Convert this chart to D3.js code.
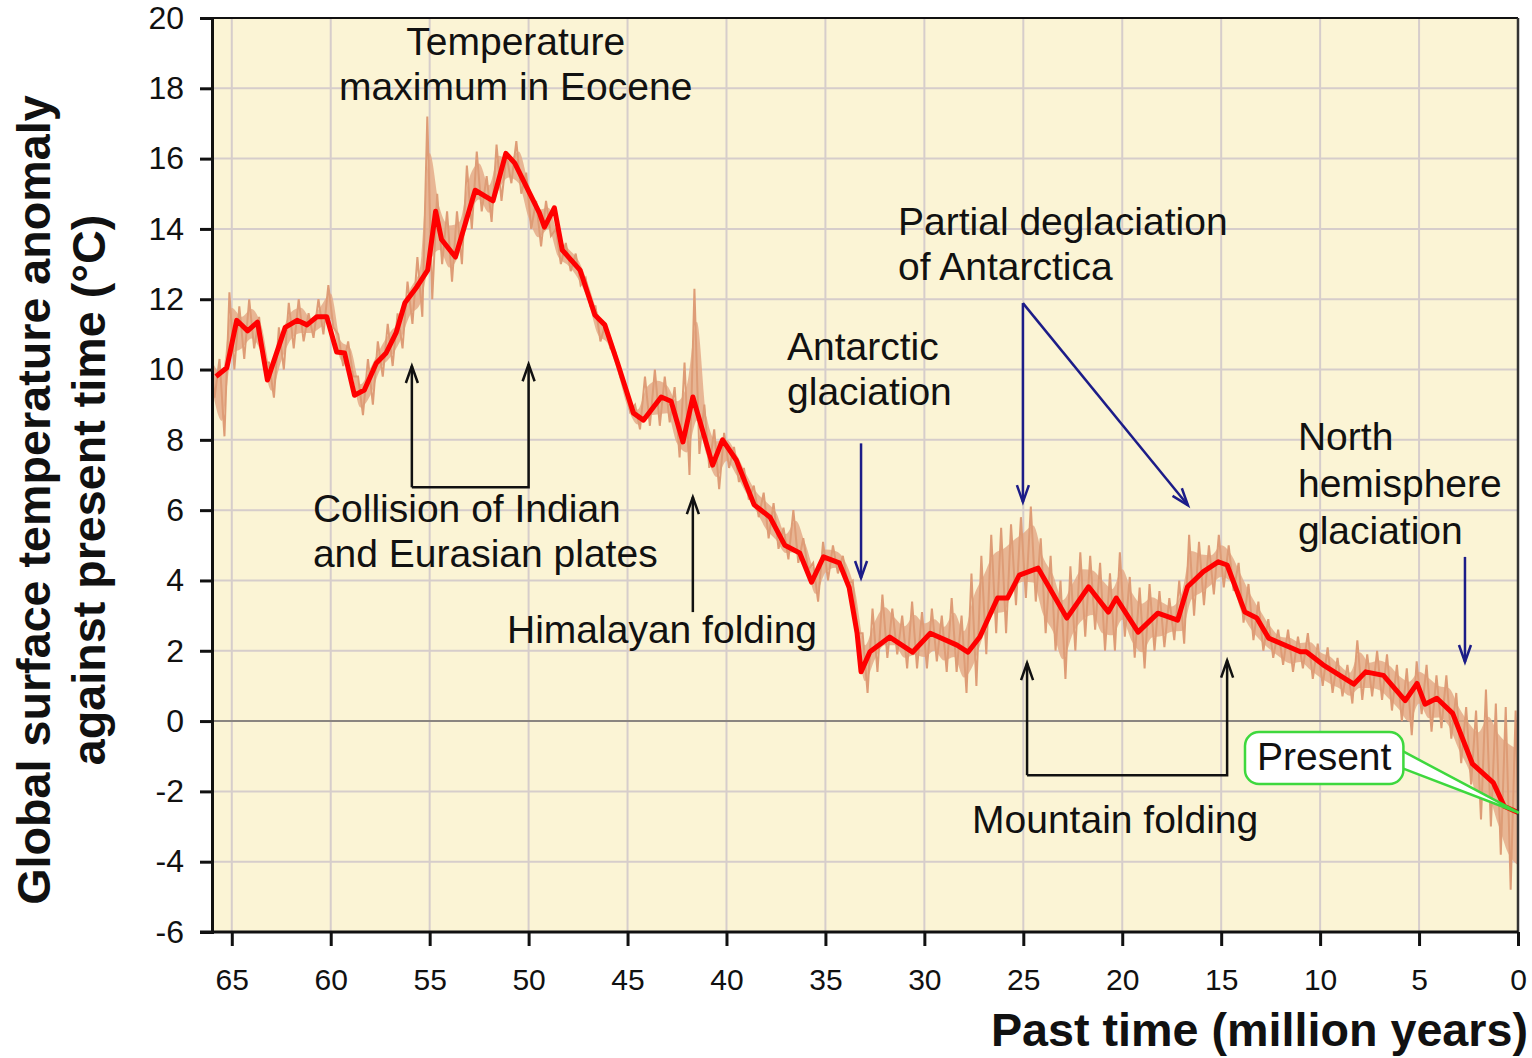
<!DOCTYPE html>
<html><head><meta charset="utf-8">
<script src="https://cdn.jsdelivr.net/npm/d3@7"></script>
<style>
html,body{margin:0;padding:0;background:#fff;}
svg{display:block;font-family:"Liberation Sans",Arial,sans-serif;}
</style></head>
<body>
<svg id="chart" width="1532" height="1058"></svg>
<script>
// ---------- DATA ----------
const xTicks = [65,60,55,50,45,40,35,30,25,20,15,10,5,0];
const xTickLabels = ["65","60","55","50","45","40","35","30","25","20","15","10","5","0"];
const yTicks = [-6,-4,-2,0,2,4,6,8,10,12,14,16,18,20];
const yTickLabels = ["-6","-4","-2","0","2","4","6","8","10","12","14","16","18","20"];

// smoothed curve: age (Myr) and temperature anomaly (°C)
const smoothAges = [65.8,65.25,64.75,64.2,63.7,63.2,62.3,61.7,61.2,60.7,60.2,59.7,59.3,58.8,58.3,57.7,57.2,56.7,56.25,55.65,55.1,54.7,54.4,53.7,52.7,51.8,51.15,50.7,49.45,49.2,48.7,48.3,47.4,46.65,46.15,45.5,44.7,44.2,43.3,42.8,42.2,41.7,40.7,40.2,39.5,38.6,37.8,37.05,36.3,35.7,35.1,34.3,33.8,33.4,33.2,32.75,31.75,30.6,29.7,28.35,27.8,27.2,26.3,25.8,25.2,24.25,22.8,21.7,20.7,20.3,19.2,18.2,17.2,16.7,15.9,15.15,14.7,13.8,13.2,12.6,11.0,10.7,9.85,8.3,7.7,6.8,5.7,5.1,4.7,4.1,3.3,2.3,1.25,0.7,0];
const smoothTemps = [9.8,10.05,11.4,11.1,11.35,9.7,11.2,11.4,11.27,11.5,11.5,10.5,10.47,9.27,9.42,10.18,10.47,11.04,11.9,12.35,12.83,14.5,13.7,13.2,15.1,14.8,16.15,15.87,14.45,14.05,14.6,13.4,12.83,11.55,11.27,10.18,8.76,8.56,9.22,9.1,7.94,9.22,7.28,8.0,7.42,6.15,5.8,5.0,4.78,3.95,4.67,4.5,3.8,2.5,1.4,1.97,2.39,1.96,2.5,2.16,1.96,2.39,3.5,3.5,4.15,4.35,2.93,3.82,3.1,3.5,2.53,3.07,2.87,3.82,4.25,4.53,4.44,3.1,2.93,2.36,1.97,1.97,1.6,1.05,1.4,1.3,0.58,1.07,0.48,0.65,0.22,-1.22,-1.75,-2.42,-2.6];

// raw (noisy) record, read as high / low extremes per 0.5 Myr bin
const rawAges = [66,65.5,65,64.5,64,63.5,63,62.5,62,61.5,61,60.5,60,59.5,59,58.5,58,57.5,57,56.5,56,55.5,55,54.5,54,53.5,53,52.5,52,51.5,51,50.5,50,49.5,49,48.5,48,47.5,47,46.5,46,45.5,45,44.5,44,43.5,43,42.5,42,41.5,41,40.5,40,39.5,39,38.5,38,37.5,37,36.5,36,35.5,35,34.5,34,33.5,33,32.5,32,31.5,31,30.5,30,29.5,29,28.5,28,27.5,27,26.5,26,25.5,25,24.5,24,23.5,23,22.5,22,21.5,21,20.5,20,19.5,19,18.5,18,17.5,17,16.5,16,15.5,15,14.5,14,13.5,13,12.5,12,11.5,11,10.5,10,9.5,9,8.5,8,7.5,7,6.5,6,5.5,5,4.5,4,3.5,3,2.5,2,1.5,1,0.5,0];
const rawHigh = [10.5,10.3,12.2,11.8,12.0,11.5,10.2,11.2,11.9,12.0,11.6,12.0,12.4,11.0,10.8,9.8,10.3,10.8,11.3,11.6,12.5,13.2,17.2,15.0,14.5,14.5,15.8,16.2,15.5,16.4,16.1,16.5,15.6,14.8,14.8,14.0,13.6,13.3,12.6,11.8,11.3,10.5,9.5,9.0,9.8,10.0,9.8,9.5,10.2,12.3,9.0,8.3,8.2,7.8,7.2,6.7,6.5,6.2,5.5,6.0,5.2,4.5,5.1,5.0,4.7,4.0,2.5,3.2,3.6,3.2,3.0,3.4,3.1,3.2,3.0,3.5,3.0,4.2,4.7,5.3,5.5,5.6,5.8,6.1,5.2,4.7,4.0,4.4,4.8,4.7,4.5,4.2,4.8,4.1,3.8,3.9,3.7,3.5,4.0,5.3,5.1,5.0,5.3,5.0,4.5,3.9,3.4,2.9,2.6,2.6,2.4,2.5,2.2,2.1,1.8,1.6,2.3,1.9,2.0,1.9,1.6,1.5,1.7,1.6,1.3,1.3,0.8,0.4,0.3,0.9,0.5,0.4,0.3];
const rawLow = [9.2,8.1,10.0,10.3,10.6,10.2,9.2,10.0,10.6,10.8,10.9,11.0,11.2,10.1,9.8,8.7,9.0,9.8,10.1,10.6,11.3,11.5,12.0,13.0,12.5,13.0,14.0,14.5,14.2,14.8,15.3,15.0,14.0,13.5,13.8,13.0,12.8,12.4,11.8,10.8,10.6,9.8,8.8,8.3,8.4,8.4,8.5,7.5,7.0,7.6,7.2,6.6,7.2,6.8,6.3,5.8,5.2,4.9,4.6,4.5,4.3,3.4,4.0,4.2,3.9,2.5,0.8,1.4,1.8,1.9,1.5,1.5,1.5,1.7,1.4,1.4,0.8,1.0,1.9,2.5,2.5,3.3,3.5,3.4,2.5,2.0,1.2,2.0,2.4,2.6,2.0,2.0,2.4,1.8,1.5,2.0,2.1,2.3,2.2,3.0,3.3,3.6,3.8,3.7,2.8,2.3,2.0,1.8,1.6,1.4,1.5,1.2,1.0,0.8,0.7,0.5,0.6,0.7,0.6,0.3,0.0,-0.4,0.2,-0.3,-0.2,-0.5,-1.2,-1.8,-2.8,-3.0,-3.8,-4.8,-5.2];

// annotations: text lines anchored at data coordinates (age, temp of first baseline)
const annotations = [
  {lines:["Temperature","maximum in Eocene"], age:50.65, temp:18.95, anchor:"middle", gap:45},
  {lines:["Collision of Indian","and Eurasian plates"], age:60.9, temp:5.66, anchor:"start", gap:45},
  {lines:["Himalayan folding"], age:51.09, temp:2.22, anchor:"start", gap:45},
  {lines:["Antarctic","glaciation"], age:36.94, temp:10.27, anchor:"start", gap:45},
  {lines:["Partial deglaciation","of Antarctica"], age:31.33, temp:13.83, anchor:"start", gap:45},
  {lines:["North","hemisphere","glaciation"], age:11.12, temp:7.71, anchor:"start", gap:47},
  {lines:["Mountain folding"], age:27.59, temp:-3.19, anchor:"start", gap:45}
];
// arrows: polylines in data coords, arrowhead at last point
const blackArrows = [
  [[55.9,6.65],[55.9,10.1]],
  [[55.9,6.65],[50.0,6.65],[50.0,10.15]],
  [[41.7,3.1],[41.7,6.37]],
  [[24.81,-1.54],[24.81,1.65]],
  [[24.81,-1.54],[14.7,-1.54],[14.7,1.72]]
];
const blueArrows = [
  [[33.2,7.9],[33.2,4.07]],
  [[25.02,11.89],[25.02,6.23]],
  [[25.02,11.89],[16.68,6.14]],
  [[2.68,4.67],[2.68,1.68]]
];
const presentLabel = {text:"Present", age:13.19, temp:-1.39, pointAge:0, pointTemp:-2.6};

// ---------- CHART ----------
const svg = d3.select("#chart");
const L = 212, R = 1518, T = 18, B = 932;
const x = d3.scaleLinear().domain([66,0]).range([L,R]);
const y = d3.scaleLinear().domain([-6,20]).range([B,T]);

svg.append("defs").append("clipPath").attr("id","plotclip")
  .append("rect").attr("x",L).attr("y",T).attr("width",R-L).attr("height",B-T);

svg.append("rect").attr("x",L).attr("y",T).attr("width",R-L).attr("height",B-T).attr("fill","#FBF4D5");

// grid
const grid = svg.append("g");
grid.selectAll(".vg").data(xTicks.filter(d=>d>0)).join("line")
  .attr("x1",d=>x(d)).attr("x2",d=>x(d)).attr("y1",T).attr("y2",B)
  .attr("stroke","#D6CDCB").attr("stroke-width",2);
grid.selectAll(".hg").data(yTicks.filter(d=>d>-6 && d<20 && d!==0)).join("line")
  .attr("x1",L).attr("x2",R).attr("y1",d=>y(d)).attr("y2",d=>y(d))
  .attr("stroke","#D6CDCB").attr("stroke-width",2);
grid.append("line").attr("x1",L).attr("x2",R).attr("y1",y(0)).attr("y2",y(0))
  .attr("stroke","#8A8580").attr("stroke-width",2);

// noisy record
const plot = svg.append("g").attr("clip-path","url(#plotclip)");
const core = d3.area().x((d,i)=>x(rawAges[i]))
  .y0((d,i)=>y(rawLow[i]*0.8 + rawHigh[i]*0.2))
  .y1((d,i)=>y(rawHigh[i]*0.8 + rawLow[i]*0.2))
  .curve(d3.curveMonotoneX);
plot.append("path").datum(rawAges).attr("d",core).attr("fill","#E3A683").attr("opacity",0.8);
const zig = [];
rawAges.forEach((a,i)=>{ zig.push([a+0.12, rawHigh[i]]); zig.push([a-0.13, rawLow[i]]); });
plot.append("path").datum(zig)
  .attr("d", d3.line().x(d=>x(d[0])).y(d=>y(d[1])))
  .attr("fill","none").attr("stroke","#DE9C76").attr("stroke-width",2);

// smoothed red line
plot.append("path").datum(smoothAges)
  .attr("d", d3.line().x((d,i)=>x(smoothAges[i])).y((d,i)=>y(smoothTemps[i])))
  .attr("fill","none").attr("stroke","#FF0000").attr("stroke-width",5).attr("stroke-linejoin","round");

// borders
svg.append("line").attr("x1",L).attr("x2",R).attr("y1",T).attr("y2",T).attr("stroke","#111").attr("stroke-width",2);
svg.append("line").attr("x1",R).attr("x2",R).attr("y1",T).attr("y2",B).attr("stroke","#333").attr("stroke-width",2.5);

// axes
const yAxis = d3.axisLeft(y).tickValues(yTicks).tickFormat((d,i)=>yTickLabels[i]).tickSize(12).tickPadding(16);
const gy = svg.append("g").attr("transform",`translate(${L},0)`).call(yAxis);
gy.select(".domain").attr("stroke","#111").attr("stroke-width",3);
gy.selectAll(".tick line").attr("stroke","#111").attr("stroke-width",3);
gy.selectAll(".tick text").attr("font-size",32).attr("fill","#111").attr("font-family","Liberation Sans, Arial, sans-serif");

const xAxis = d3.axisBottom(x).tickValues(xTicks).tickFormat((d,i)=>xTickLabels[i]).tickSize(14).tickSizeOuter(0);
const gx = svg.append("g").attr("transform",`translate(0,${B})`).call(xAxis);
gx.select(".domain").attr("stroke","#111").attr("stroke-width",3).attr("d",`M${L-12},0H${R}`);
gx.selectAll(".tick line").attr("stroke","#111").attr("stroke-width",3);
gx.selectAll(".tick text").attr("font-size",30).attr("fill","#111").attr("y",58).attr("dy",0)
  .attr("font-family","Liberation Sans, Arial, sans-serif");

// axis titles
svg.append("text").attr("x",1528).attr("y",1046).attr("text-anchor","end")
  .attr("font-size",46.7).attr("font-weight","bold").attr("fill","#111").text("Past time (million years)");
svg.append("text").attr("transform","translate(50,500) rotate(-90)").attr("text-anchor","middle")
  .attr("font-size",46.7).attr("font-weight","bold").attr("fill","#111").text("Global surface temperature anomaly");
svg.append("text").attr("transform","translate(105,490) rotate(-90)").attr("text-anchor","middle")
  .attr("font-size",46.7).attr("font-weight","bold").attr("fill","#111").text("against present time (°C)");

// arrows
function drawArrow(pts, color){
  const p = pts.map(d=>[x(d[0]),y(d[1])]);
  svg.append("path").attr("d", d3.line()(p)).attr("fill","none").attr("stroke",color).attr("stroke-width",2.5);
  const [x1,y1] = p[p.length-2], [x2,y2] = p[p.length-1];
  const ang = Math.atan2(y2-y1, x2-x1), len = 17, hw = 6;
  const bx = x2 - len*Math.cos(ang), by = y2 - len*Math.sin(ang);
  const nx = -Math.sin(ang), ny = Math.cos(ang);
  svg.append("path").attr("d",`M${bx+nx*hw},${by+ny*hw}L${x2},${y2}L${bx-nx*hw},${by-ny*hw}`)
    .attr("fill","none").attr("stroke",color).attr("stroke-width",2.5).attr("stroke-linejoin","miter");
}
blackArrows.forEach(a=>drawArrow(a,"#111"));
blueArrows.forEach(a=>drawArrow(a,"#1C1C88"));

// text annotations
annotations.forEach(a=>{
  const t = svg.append("text").attr("font-size",39).attr("fill","#111").attr("text-anchor",a.anchor);
  a.lines.forEach((ln,i)=>{
    t.append("tspan").attr("x",x(a.age)).attr("y",y(a.temp)+i*a.gap).text(ln);
  });
});

// Present callout
const px = x(presentLabel.age), py = y(presentLabel.temp);
const ptx = x(presentLabel.pointAge), pty = y(presentLabel.pointTemp);
const callout = svg.append("g");
const tail = callout.append("path");
const box = callout.append("rect");
const ptxt = callout.append("text").attr("x",px).attr("y",py).attr("font-size",39).attr("fill","#111").text(presentLabel.text);
const w = ptxt.node().getComputedTextLength();
const bx0 = px-12, by0 = py-38, bw = w+24, bh = 52;
tail.attr("d",`M${bx0+bw-3},${by0+18}L${ptx},${pty}L${bx0+bw-2},${by0+36}`)
  .attr("fill","#fff").attr("stroke","#3ED83E").attr("stroke-width",2.5).attr("stroke-linejoin","round");
box.attr("x",bx0).attr("y",by0).attr("width",bw).attr("height",bh)
  .attr("rx",14).attr("fill","#fff").attr("stroke","#3ED83E").attr("stroke-width",2.5);
</script>
</body></html>
